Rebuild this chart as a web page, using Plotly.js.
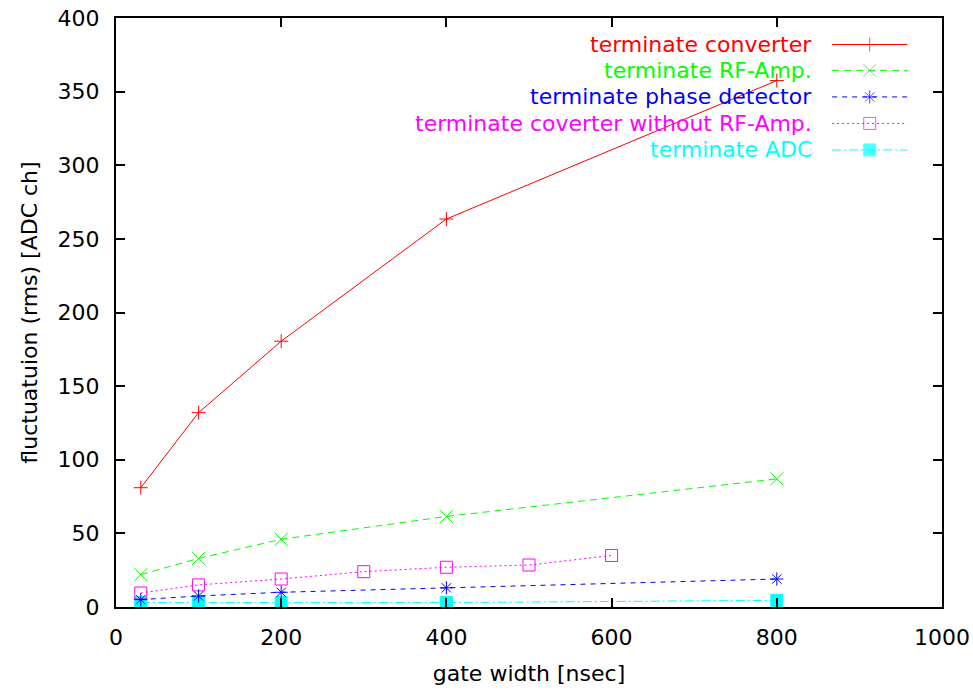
<!DOCTYPE html>
<html>
<head>
<meta charset="utf-8">
<script src="https://cdn.plot.ly/plotly-3.0.1.min.js"></script>
<style>
  html, body { margin: 0; padding: 0; background: #ffffff; }
  #chart { width: 973px; height: 694px; }
</style>
</head>
<body>
<div id="chart"></div>
<script>
// Gate widths (nsec) and measured rms fluctuation (ADC ch) per termination point
const gateConverter = [30, 100, 200, 400, 800];
const rmsConverter = [81, 132, 180.5, 263.5, 357.5];

const gateRfAmp = [30, 100, 200, 400, 800];
const rmsRfAmp = [22, 33, 46, 61.5, 87];

const gatePhaseDet = [30, 100, 200, 400, 800];
const rmsPhaseDet = [5, 7.5, 10, 13, 19];

const gateNoRfAmp = [30, 100, 200, 300, 400, 500, 600];
const rmsNoRfAmp = [9.5, 15, 19, 24, 27, 28.5, 35];

const gateAdc = [30, 100, 200, 400, 800];
const rmsAdc = [3, 3, 3, 3, 4.5];

const seriesNames = [
  'terminate converter',
  'terminate RF-Amp.',
  'terminate phase detector',
  'terminate coverter without RF-Amp.',
  'terminate ADC'
];

const xTickVals = [0, 200, 400, 600, 800, 1000];
const yTickVals = [0, 50, 100, 150, 200, 250, 300, 350, 400];

const FONT = 'DejaVu Sans, Liberation Sans, Arial, sans-serif';

// line/marker style per series
const styles = [
  { color: '#ff0000', dash: 'solid',             symbol: 'cross-thin-open', size: 10 },
  { color: '#00ff00', dash: '7px,5px',           symbol: 'x-thin-open',     size: 13 },
  { color: '#0000ff', dash: '5px,5px',           symbol: 'asterisk-open',   size: 11 },
  { color: '#ff00ff', dash: '2px,3px',           symbol: 'square-open',     size: 12 },
  { color: '#00ffff', dash: '9px,3px,2px,3px',   symbol: 'square',          size: 12 }
];

const dataSets = [
  [gateConverter, rmsConverter],
  [gateRfAmp, rmsRfAmp],
  [gatePhaseDet, rmsPhaseDet],
  [gateNoRfAmp, rmsNoRfAmp],
  [gateAdc, rmsAdc]
];

const traces = [];
// draw back-to-front so the converter curve sits on top
for (let i = dataSets.length - 1; i >= 0; i--) {
  const s = styles[i];
  traces.push({
    type: 'scatter',
    mode: 'lines+markers',
    name: seriesNames[i],
    x: dataSets[i][0],
    y: dataSets[i][1],
    line: { color: s.color, width: 1, dash: s.dash },
    marker: {
      symbol: s.symbol,
      size: s.size,
      color: s.color,
      line: { color: s.color, width: 1 }
    },
    cliponaxis: false,
    showlegend: false,
    hoverinfo: 'x+y'
  });
}

// key in the upper right: label right-aligned, sample line to its right
const keyText = 0.845;     // right edge of labels (plot fraction)
const keyLine = [0.867, 0.958];
const keyRows = [0.955, 0.911, 0.866, 0.821, 0.776];
const annotations = [];
seriesNames.forEach((name, i) => {
  const s = styles[i];
  const y = keyRows[i];
  traces.push({
    type: 'scatter',
    mode: 'lines+markers',
    xaxis: 'x2',
    yaxis: 'y2',
    x: [keyLine[0], (keyLine[0] + keyLine[1]) / 2, keyLine[1]],
    y: [y, y, y],
    line: { color: s.color, width: 1, dash: s.dash },
    marker: {
      symbol: s.symbol,
      size: [0, s.size, 0],
      color: s.color,
      line: { color: s.color, width: 1 }
    },
    showlegend: false,
    hoverinfo: 'skip'
  });
  annotations.push({
    xref: 'paper', yref: 'paper',
    x: keyText, y: y,
    xanchor: 'right', yanchor: 'middle',
    text: name,
    showarrow: false,
    font: { family: FONT, size: 22, color: s.color }
  });
});

const axisCommon = {
  showgrid: false,
  zeroline: false,
  showline: true,
  linecolor: '#000000',
  linewidth: 2,
  mirror: 'ticks',
  ticks: 'inside',
  ticklen: 9,
  tickwidth: 2,
  tickcolor: '#000000',
  tickfont: { family: FONT, size: 22, color: '#000000' }
};

const layout = {
  width: 973,
  height: 694,
  margin: { l: 116, r: 31, t: 18, b: 87 },
  paper_bgcolor: '#ffffff',
  plot_bgcolor: '#ffffff',
  showlegend: false,
  xaxis: Object.assign({}, axisCommon, {
    range: [0, 1000],
    tickvals: xTickVals,
    ticktext: xTickVals.map(String),
    ticklabelstandoff: 10,
    title: { text: 'gate width [nsec]', font: { family: FONT, size: 22, color: '#000000' }, standoff: 16 }
  }),
  yaxis: Object.assign({}, axisCommon, {
    range: [0, 400],
    tickvals: yTickVals,
    ticktext: yTickVals.map(String),
    ticklabelstandoff: 10,
    title: { text: 'fluctuatuion (rms) [ADC ch]', font: { family: FONT, size: 22, color: '#000000' }, standoff: 14 }
  }),
  xaxis2: { overlaying: 'x', range: [0, 1], visible: false, fixedrange: true },
  yaxis2: { overlaying: 'y', range: [0, 1], visible: false, fixedrange: true },
  annotations: annotations
};

Plotly.newPlot('chart', traces, layout, { displayModeBar: false, staticPlot: true });
</script>
</body>
</html>
